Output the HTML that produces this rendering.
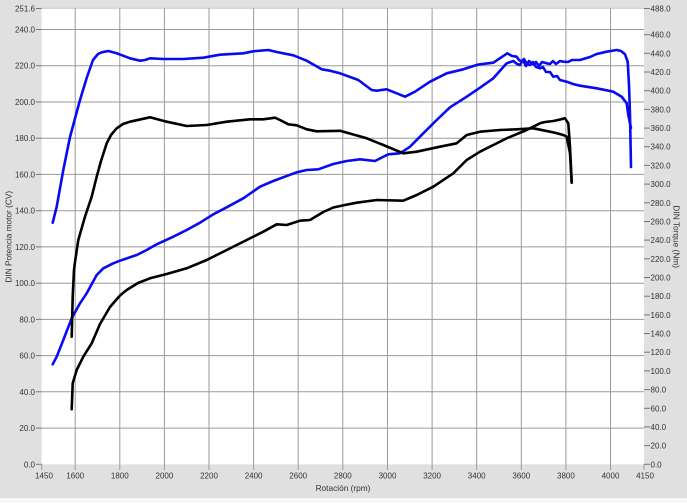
<!DOCTYPE html>
<html><head><meta charset="utf-8"><style>
html,body{margin:0;padding:0;background:#f8f8f8;}
svg{display:block;}
text{font-family:"Liberation Sans",Arial,sans-serif;fill:#333;}
</style></head><body>
<svg width="687" height="503" viewBox="0 0 687 503" xmlns="http://www.w3.org/2000/svg">
<rect x="0" y="0" width="687" height="498" fill="#e0e0e0"/>
<rect x="41.7" y="8.3" width="602.3" height="456" fill="#ffffff"/>
<line x1="41.7" y1="8.3" x2="644" y2="8.3" stroke="#c8c8c8" stroke-width="1"/>
<g stroke="#9a9a9a" stroke-width="1">
<line x1="41.7" x2="644" y1="428.1" y2="428.1"/>
<line x1="41.7" x2="644" y1="391.8" y2="391.8"/>
<line x1="41.7" x2="644" y1="355.6" y2="355.6"/>
<line x1="41.7" x2="644" y1="319.4" y2="319.4"/>
<line x1="41.7" x2="644" y1="283.2" y2="283.2"/>
<line x1="41.7" x2="644" y1="246.9" y2="246.9"/>
<line x1="41.7" x2="644" y1="210.7" y2="210.7"/>
<line x1="41.7" x2="644" y1="174.4" y2="174.4"/>
<line x1="41.7" x2="644" y1="138.2" y2="138.2"/>
<line x1="41.7" x2="644" y1="102.0" y2="102.0"/>
<line x1="41.7" x2="644" y1="65.7" y2="65.7"/>
<line x1="41.7" x2="644" y1="29.5" y2="29.5"/>
<line y1="8.3" y2="470" x1="75.2" x2="75.2"/>
<line y1="8.3" y2="470" x1="119.8" x2="119.8"/>
<line y1="8.3" y2="470" x1="164.4" x2="164.4"/>
<line y1="8.3" y2="470" x1="209.0" x2="209.0"/>
<line y1="8.3" y2="470" x1="253.6" x2="253.6"/>
<line y1="8.3" y2="470" x1="298.2" x2="298.2"/>
<line y1="8.3" y2="470" x1="342.8" x2="342.8"/>
<line y1="8.3" y2="470" x1="387.5" x2="387.5"/>
<line y1="8.3" y2="470" x1="432.1" x2="432.1"/>
<line y1="8.3" y2="470" x1="476.7" x2="476.7"/>
<line y1="8.3" y2="470" x1="521.3" x2="521.3"/>
<line y1="8.3" y2="470" x1="565.9" x2="565.9"/>
<line y1="8.3" y2="470" x1="610.5" x2="610.5"/>
<line y1="464.3" y2="470" x1="41.7" x2="41.7"/>
<line y1="464.3" y2="470" x1="644" x2="644"/>
</g>
<!-- left ticks -->
<g stroke="#777" stroke-width="1">
<line x1="36" x2="41.7" y1="464.3" y2="464.3"/>
<line x1="36" x2="41.7" y1="428.1" y2="428.1"/>
<line x1="36" x2="41.7" y1="391.8" y2="391.8"/>
<line x1="36" x2="41.7" y1="355.6" y2="355.6"/>
<line x1="36" x2="41.7" y1="319.4" y2="319.4"/>
<line x1="36" x2="41.7" y1="283.2" y2="283.2"/>
<line x1="36" x2="41.7" y1="246.9" y2="246.9"/>
<line x1="36" x2="41.7" y1="210.7" y2="210.7"/>
<line x1="36" x2="41.7" y1="174.4" y2="174.4"/>
<line x1="36" x2="41.7" y1="138.2" y2="138.2"/>
<line x1="36" x2="41.7" y1="102.0" y2="102.0"/>
<line x1="36" x2="41.7" y1="65.7" y2="65.7"/>
<line x1="36" x2="41.7" y1="29.5" y2="29.5"/>
<line x1="36" x2="41.7" y1="8.5" y2="8.5"/>
</g>
<g font-size="8" text-anchor="end">
<text x="35" y="467.3">0.0</text>
<text x="35" y="431.1">20.0</text>
<text x="35" y="394.8">40.0</text>
<text x="35" y="358.6">60.0</text>
<text x="35" y="322.4">80.0</text>
<text x="35" y="286.2">100.0</text>
<text x="35" y="249.9">120.0</text>
<text x="35" y="213.7">140.0</text>
<text x="35" y="177.4">160.0</text>
<text x="35" y="141.2">180.0</text>
<text x="35" y="105.0">200.0</text>
<text x="35" y="68.7">220.0</text>
<text x="35" y="32.5">240.0</text>
<text x="35" y="11.3">251.6</text>
</g>
<!-- right ticks -->
<g stroke="#777" stroke-width="1">
<line x1="644" x2="650" y1="464.3" y2="464.3"/>
<line x1="644" x2="650" y1="445.6" y2="445.6"/>
<line x1="644" x2="650" y1="426.9" y2="426.9"/>
<line x1="644" x2="650" y1="408.3" y2="408.3"/>
<line x1="644" x2="650" y1="389.6" y2="389.6"/>
<line x1="644" x2="650" y1="370.9" y2="370.9"/>
<line x1="644" x2="650" y1="352.2" y2="352.2"/>
<line x1="644" x2="650" y1="333.5" y2="333.5"/>
<line x1="644" x2="650" y1="314.9" y2="314.9"/>
<line x1="644" x2="650" y1="296.2" y2="296.2"/>
<line x1="644" x2="650" y1="277.5" y2="277.5"/>
<line x1="644" x2="650" y1="258.8" y2="258.8"/>
<line x1="644" x2="650" y1="240.1" y2="240.1"/>
<line x1="644" x2="650" y1="221.5" y2="221.5"/>
<line x1="644" x2="650" y1="202.8" y2="202.8"/>
<line x1="644" x2="650" y1="184.1" y2="184.1"/>
<line x1="644" x2="650" y1="165.4" y2="165.4"/>
<line x1="644" x2="650" y1="146.7" y2="146.7"/>
<line x1="644" x2="650" y1="128.1" y2="128.1"/>
<line x1="644" x2="650" y1="109.4" y2="109.4"/>
<line x1="644" x2="650" y1="90.7" y2="90.7"/>
<line x1="644" x2="650" y1="72.0" y2="72.0"/>
<line x1="644" x2="650" y1="53.3" y2="53.3"/>
<line x1="644" x2="650" y1="34.7" y2="34.7"/>
<line x1="644" x2="650" y1="8.5" y2="8.5"/>
</g>
<g font-size="8" text-anchor="start">
<text x="650.5" y="467.3">0.0</text>
<text x="650.5" y="448.6">20.0</text>
<text x="650.5" y="429.9">40.0</text>
<text x="650.5" y="411.3">60.0</text>
<text x="650.5" y="392.6">80.0</text>
<text x="650.5" y="373.9">100.0</text>
<text x="650.5" y="355.2">120.0</text>
<text x="650.5" y="336.5">140.0</text>
<text x="650.5" y="317.9">160.0</text>
<text x="650.5" y="299.2">180.0</text>
<text x="650.5" y="280.5">200.0</text>
<text x="650.5" y="261.8">220.0</text>
<text x="650.5" y="243.1">240.0</text>
<text x="650.5" y="224.5">260.0</text>
<text x="650.5" y="205.8">280.0</text>
<text x="650.5" y="187.1">300.0</text>
<text x="650.5" y="168.4">320.0</text>
<text x="650.5" y="149.7">340.0</text>
<text x="650.5" y="131.1">360.0</text>
<text x="650.5" y="112.4">380.0</text>
<text x="650.5" y="93.7">400.0</text>
<text x="650.5" y="75.0">420.0</text>
<text x="650.5" y="56.3">440.0</text>
<text x="650.5" y="37.7">460.0</text>
<text x="650.5" y="11.5">488.0</text>
</g>
<!-- bottom labels -->
<g font-size="8" text-anchor="middle">
<text x="44" y="478.5">1450</text>
<text x="75.2" y="478.5">1600</text>
<text x="119.8" y="478.5">1800</text>
<text x="164.4" y="478.5">2000</text>
<text x="209.0" y="478.5">2200</text>
<text x="253.6" y="478.5">2400</text>
<text x="298.2" y="478.5">2600</text>
<text x="342.8" y="478.5">2800</text>
<text x="387.5" y="478.5">3000</text>
<text x="432.1" y="478.5">3200</text>
<text x="476.7" y="478.5">3400</text>
<text x="521.3" y="478.5">3600</text>
<text x="565.9" y="478.5">3800</text>
<text x="610.5" y="478.5">4000</text>
<text x="645" y="478.5">4150</text>
</g>
<text x="343" y="491" font-size="8.3" text-anchor="middle">Rotación (rpm)</text>
<text transform="translate(11.3,236.7) rotate(-90)" font-size="8.3" text-anchor="middle">DIN Potencia motor (CV)</text>
<text transform="translate(673.5,236.7) rotate(90)" font-size="8.3" text-anchor="middle">DIN Torque (Nm)</text>

<g fill="none" stroke-width="2.6" stroke-linejoin="round" stroke-linecap="round">
<!-- blue torque -->
<polyline stroke="#0a0af0" points="52.7,222.7 56.7,206.7 63.3,170 70,137 80,100 87,77 93,60 98,54 101.7,52.3 108.3,51 116.7,53.3 130,58.3 140,60.7 145,60 150,58.3 163.3,59 183.3,59 203.3,57.7 220,54.7 243.3,53.3 253.3,51.3 268.3,50 276.7,52 293.3,55.3 306.7,60.7 321.7,69.3 330,70.7 340,73.3 358.3,80 371.7,90 376.7,90.7 386.7,89.3 396.7,93.3 405,96.7 415,91.7 430,81.7 446.7,73.3 463.3,69.3 476.7,65 480,64.3 493.3,62.7 507.3,53.3 512,56 516.7,56.7 519,60 521.7,61.7 524,59 527,64 530,65 533,62 536,67 540,68.3 543,67 546,72 550,72 553.3,76.7 557,76 560,80 566.7,81.7 573,84 580,85.7 596.7,88.3 613.3,91.7 621.7,96.7 626.7,103.3 628.3,115 631,128"/>
<!-- blue power -->
<polyline stroke="#0a0af0" points="52.7,364.3 56.7,356.7 63.3,340 71.7,318.3 80,303.3 86.7,293.3 96.7,275 103.3,268.3 113.3,263.3 120,260.7 136.7,255 146.7,250 156.7,244.3 173.3,236.7 186.7,230 200,222.7 213.3,214.3 226.7,207.3 243.3,198.3 260,186.7 273.3,181 296.7,172.3 306.7,170 318.3,169.3 333.3,164 346.7,161 360,159.3 375,161 388.3,154.3 400,153.3 410,146.7 423.3,133.3 436.7,120 450,107.3 466.7,96.7 480,87.7 493.3,78.3 506.7,63.3 513.3,61 517,64 520,65 523,60 526,66 529,61 533.3,64.3 536,62 539,66 542,62 546.7,63.3 550,64 553,61 556,64 560,61 563.3,61.7 568,62 572,60 580,60 590,57 596.7,54 606.7,51.7 616.7,50 621,51 625,54.3 627.7,61.7 629,85 630,115 631,167"/>
<!-- black torque -->
<polyline stroke="#000" points="71.7,336.7 72.7,296.7 74,270 75,262 78.3,240 85,216.7 91.7,196.7 96.7,176.7 101,161 106.7,143.3 111,135 116.7,128.3 123,124 130,121.7 150,117.3 166.7,121.7 186.7,126 206.7,125 226.7,121.7 250,119.3 263.3,119.3 275,117.7 280,120 288.3,124.3 296.7,125.3 306.7,129.3 316.7,131.3 340,130.8 366.7,138.3 383.3,145 403.3,153.3 416.7,151.7 440,146.7 456.7,143.3 466.7,135 480,131.7 500,130 516.7,129.3 533.3,128.3 550,131.7 556,133 563.3,135 566.7,136.7 570,153.3 571.7,182.7"/>
<!-- black power -->
<polyline stroke="#000" points="71.7,409.3 72.7,383.3 76.7,370 83.3,356.7 91.7,343.3 100,324 110,307 120,295.5 126.7,290 138,283 150,278.3 166.7,274 186.7,268.3 206.7,260 226.7,250 246.7,240 263.3,231.7 276.7,224.3 286.7,225 300,220.7 310,220 323.3,212 333.3,207.5 345,205 356.7,202.7 376.7,200 403.3,200.7 416.7,195 433.3,186.7 453.3,173.3 466.7,160 480,151.7 493.3,145 506.7,138.3 526.7,130 540,123.3 545,122 553.3,121 558,120 565,118.3 568.3,123.3 570,146.7 571.7,182.7"/>
</g>
</svg>
</body></html>
